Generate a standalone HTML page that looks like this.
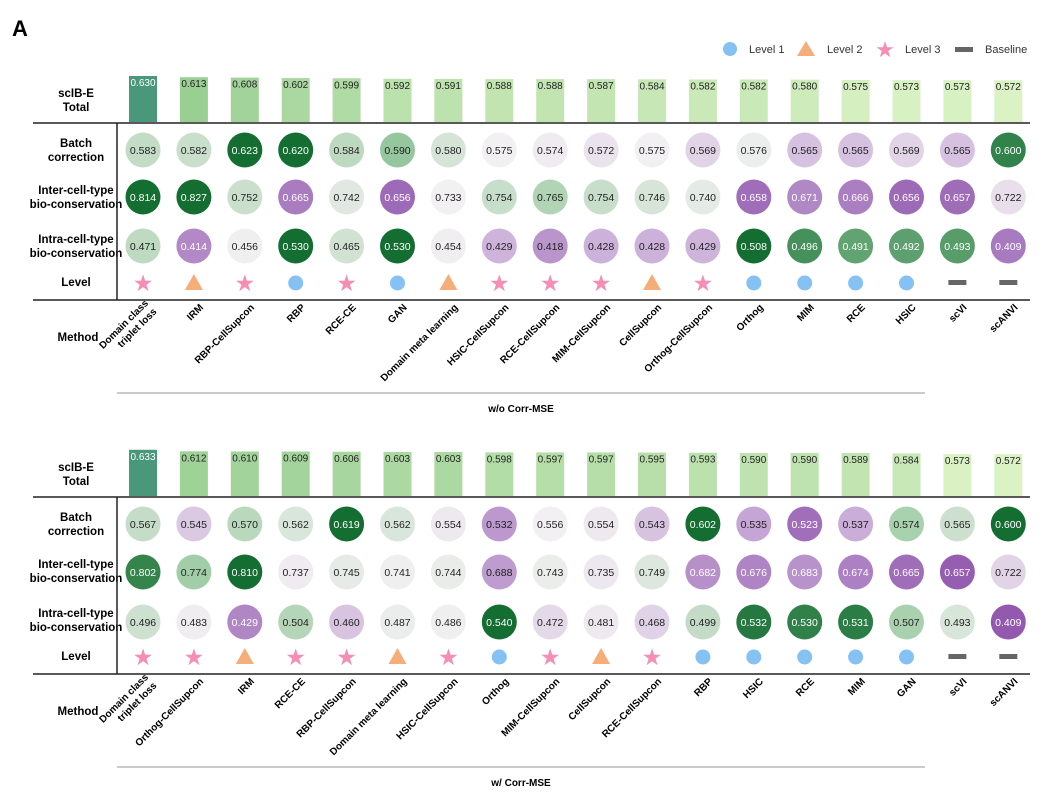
<!DOCTYPE html>
<html><head><meta charset="utf-8"><style>
body{margin:0;background:#fff;}
svg{display:block;font-family:"Liberation Sans",Arial,sans-serif;}
</style></head><body>
<svg id="fig" width="1063" height="799" viewBox="0 0 1063 799">
<text x="12" y="36" font-size="22" font-weight="bold">A</text>
<g>
<circle cx="730" cy="49" r="7" fill="#85c1f2"/>
<text x="749" y="53" font-size="11" fill="#333">Level 1</text>
<polygon points="806,41 797,56 815,56" fill="#f5ae7a"/>
<text x="827" y="53" font-size="11" fill="#333">Level 2</text>
<text x="885" y="57" font-size="22" fill="#f58db5" text-anchor="middle">★</text>
<text x="905" y="53" font-size="11" fill="#333">Level 3</text>
<rect x="955" y="47" width="18" height="5" fill="#666"/>
<text x="985" y="53" font-size="11" fill="#333">Baseline</text>
</g>
<g id="root"></g>
</svg>
<script>
const topMethods=["Domain class|triplet loss","IRM","RBP-CellSupcon","RBP","RCE-CE","GAN","Domain meta learning","HSIC-CellSupcon","RCE-CellSupcon","MIM-CellSupcon","CellSupcon","Orthog-CellSupcon","Orthog","MIM","RCE","HSIC","scVI","scANVI"];
const topTotal=[0.630,0.613,0.608,0.602,0.599,0.592,0.591,0.588,0.588,0.587,0.584,0.582,0.582,0.580,0.575,0.573,0.573,0.572];
const topBatch=[0.583,0.582,0.623,0.620,0.584,0.590,0.580,0.575,0.574,0.572,0.575,0.569,0.576,0.565,0.565,0.569,0.565,0.600];
const topInter=[0.814,0.827,0.752,0.665,0.742,0.656,0.733,0.754,0.765,0.754,0.746,0.740,0.658,0.671,0.666,0.656,0.657,0.722];
const topIntra=[0.471,0.414,0.456,0.530,0.465,0.530,0.454,0.429,0.418,0.428,0.428,0.429,0.508,0.496,0.491,0.492,0.493,0.409];
const topLevel=[3,2,3,1,3,1,2,3,3,3,2,3,1,1,1,1,0,0];
const botMethods=["Domain class|triplet loss","Orthog-CellSupcon","IRM","RCE-CE","RBP-CellSupcon","Domain meta learning","HSIC-CellSupcon","Orthog","MIM-CellSupcon","CellSupcon","RCE-CellSupcon","RBP","HSIC","RCE","MIM","GAN","scVI","scANVI"];
const botTotal=[0.633,0.612,0.610,0.609,0.606,0.603,0.603,0.598,0.597,0.597,0.595,0.593,0.590,0.590,0.589,0.584,0.573,0.572];
const botBatch=[0.567,0.545,0.570,0.562,0.619,0.562,0.554,0.532,0.556,0.554,0.543,0.602,0.535,0.523,0.537,0.574,0.565,0.600];
const botInter=[0.802,0.774,0.810,0.737,0.745,0.741,0.744,0.688,0.743,0.735,0.749,0.682,0.676,0.683,0.674,0.665,0.657,0.722];
const botIntra=[0.496,0.483,0.429,0.504,0.460,0.487,0.486,0.540,0.472,0.481,0.468,0.499,0.532,0.530,0.531,0.507,0.493,0.409];
const botLevel=[3,3,2,3,3,2,3,1,3,2,3,1,1,1,1,1,0,0];

const NS="http://www.w3.org/2000/svg";
const root=document.getElementById('root');
function mk(tag,attrs,parent,txt){const e=document.createElementNS(NS,tag);for(const k in attrs)e.setAttribute(k,attrs[k]);if(txt!==undefined)e.textContent=txt;(parent||root).appendChild(e);return e;}
function colX(i){return 143+i*50.9;}
function lerp(a,b,t){return a.map((x,k)=>Math.round(x+(b[k]-x)*t));}
function divColor(t){
  t=Math.max(-1,Math.min(1,t));
  const mid=[242,240,242],g1=[160,205,165],g2=[20,110,50],p1=[200,170,215],p2=[140,80,170];
  let c;
  if(t>=0){c=t<0.5?lerp(mid,g1,t/0.5):lerp(g1,g2,(t-0.5)/0.5);}
  else{const s=-t;c=s<0.5?lerp(mid,p1,s/0.5):lerp(p1,p2,(s-0.5)/0.5);}
  return `rgb(${c[0]},${c[1]},${c[2]})`;
}
function barColor(v,min,max){const t=(v-min)/(max-min);
  const c=t>0.9?[74,152,124]:lerp([218,242,196],[150,205,145],Math.min(1,t/0.75));return `rgb(${c[0]},${c[1]},${c[2]})`;}

function panel(oy,methods,total,rows,levels,caption,pname){
  const g=mk('g',{});
  const labels=[["scIB-E","Total",100],["Batch","correction",150],["Inter-cell-type","bio-conservation",197],["Intra-cell-type","bio-conservation",246]];
  labels.forEach((l,k)=>{const t=mk('text',{x:76,y:oy+l[2]-3,'font-size':11.5,'font-weight':'bold','text-anchor':'middle'},g);
    
    mk('tspan',{x:76},t,l[0]);mk('tspan',{x:76,dy:14},t,l[1]);});
  const lv=mk('text',{x:76,y:oy+286,'font-size':11.5,'font-weight':'bold','text-anchor':'middle'},g,'Level');
  
  const me=mk('text',{x:78,y:oy+341,'font-size':11.5,'font-weight':'bold','text-anchor':'middle'},g,'Method');
  
  const l1=mk('line',{x1:33,x2:1030,y1:oy+123,y2:oy+123,stroke:'#222','stroke-width':1.5},g);
  
  const l2=mk('line',{x1:33,x2:1030,y1:oy+300,y2:oy+300,stroke:'#222','stroke-width':1.5},g);
  
  const l3=mk('line',{x1:117,x2:117,y1:oy+123,y2:oy+300,stroke:'#222','stroke-width':1.5},g);
  
  const l4=mk('line',{x1:117,x2:925,y1:oy+393,y2:oy+393,stroke:'#aaa','stroke-width':1.2},g);
  
  const cp=mk('text',{x:521,y:oy+412,'font-size':10,'font-weight':'bold','text-anchor':'middle'},g,caption);
  
  const mn=Math.min(...total),mx=Math.max(...total);
  total.forEach((v,i)=>{const x=colX(i),h=v/0.63*46;
    const r=mk('rect',{x:x-14,y:oy+122-h,width:28,height:h,fill:barColor(v,mn,mx)},g);
    
    const t=mk('text',{x:x,y:oy+122-h+10,'font-size':10,'text-anchor':'middle',fill:(v===mx?'#fff':'#222')},g,v.toFixed(3));
    });
  rows.forEach((rw,k)=>{rw.vals.forEach((v,i)=>{const x=colX(i),y=oy+rw.y;const d=v-rw.c;const tt=d>=0?d/rw.sp:d/rw.sn;
    const c=mk('circle',{cx:x,cy:y,r:17.5,fill:divColor(tt)},g);
    
    const t=mk('text',{x:x,y:y+4,'font-size':10.5,'text-anchor':'middle',fill:Math.abs(tt)>0.62?'#fff':'#222'},g,v.toFixed(3));
    });});
  levels.forEach((L,i)=>{const x=colX(i),y=oy+283;let e;
    if(L===1)e=mk('circle',{cx:x,cy:y,r:7.5,fill:'#85c1f2'},g);
    else if(L===2)e=mk('polygon',{points:`${x},${y-9} ${x-9},${y+7} ${x+9},${y+7}`,fill:'#f5ae7a'},g);
    else if(L===3)e=mk('text',{x:x,y:y+8,'font-size':23,'text-anchor':'middle',fill:'#f58db5'},g,'★');
    else e=mk('rect',{x:x-9,y:y-3,width:18,height:5,fill:'#666'},g);
    });
  methods.forEach((m,i)=>{const x=colX(i)+10,y=oy+308;
    const t=mk('text',{transform:`translate(${x},${y}) rotate(-45)`,'font-size':10,'font-weight':'bold','text-anchor':'end'},g);
    
    const parts=m.split('|');
    if(parts.length===2){mk('tspan',{x:0,y:-6},t,parts[0]);mk('tspan',{x:0,y:6},t,parts[1]);}
    else t.textContent=m;});
}
panel(0,topMethods,topTotal,[{vals:topBatch,y:150,c:0.575,sp:0.028,sn:0.03},{vals:topInter,y:197,c:0.733,sp:0.08,sn:0.09},{vals:topIntra,y:246,c:0.455,sp:0.05,sn:0.06}],topLevel,'w/o Corr-MSE','panel-without-corr-mse');
panel(374,botMethods,botTotal,[{vals:botBatch,y:150,c:0.556,sp:0.04,sn:0.04},{vals:botInter,y:198,c:0.74,sp:0.07,sn:0.09},{vals:botIntra,y:248,c:0.485,sp:0.05,sn:0.08}],botLevel,'w/ Corr-MSE','panel-with-corr-mse');
</script>
</body></html>
